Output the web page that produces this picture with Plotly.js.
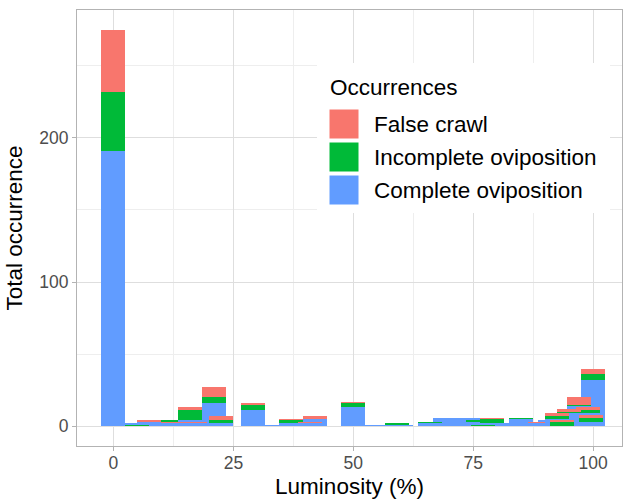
<!DOCTYPE html>
<html>
<head>
<meta charset="utf-8">
<script src="https://cdn.plot.ly/plotly-3.0.1.min.js"></script>
<style>html,body{margin:0;padding:0;background:#fff;}#chart{width:624px;height:499px;}</style>
</head>
<body>
<div id="chart"></div>
<script>
// ---- data (overlapping stacked histogram bins) ----
const binWidth = 5;
const seriesNames = ['False crawl', 'Incomplete oviposition', 'Complete oviposition'];
const seriesColors = ['#F8766D', '#00BA38', '#619CFF'];
const legendTitle = 'Occurrences';
const xTitle = 'Luminosity (%)';
const yTitle = 'Total occurrence';
const xTicks = [0, 25, 50, 75, 100];
const yTicks = [0, 100, 200];

// drawing layer A (back)
const layerA_lum        = [0, 5, 16, 21, 29, 34, 42, 50, 55, 60, 69, 74, 82, 91, 100];
const layerA_complete   = [191, 2, 4, 16, 11, 1, 5, 13, 1, 1, 6, 6, 2, 4, 32];
const layerA_incomplete = [41, 0, 7, 4, 4, 0, 0, 3, 0, 0, 0, 0, 0, 0, 4];
const layerA_false      = [43, 0, 2, 7, 1, 0, 2, 1, 0, 0, 0, 0, 0, 0, 4];
// layer B
const layerB_lum        = [7.5, 11, 22.5, 37, 59, 66, 76, 85, 97];
const layerB_complete   = [3, 3, 2, 2, 1, 2, 3, 5, 14];
const layerB_incomplete = [0, 1, 2, 2, 1, 1, 1, 1, 1];
const layerB_false      = [1, 0, 3, 1, 0, 0, 0, 0, 5];
// layer C
const layerC_lum        = [12.5, 41, 79, 89, 95, 99];
const layerC_complete   = [2, 2, 2, 2, 9, 9];
const layerC_incomplete = [0, 0, 3, 0, 1, 2];
const layerC_false      = [1, 1, 1, 1, 2, 2];
// layer D
const layerD_lum        = [17, 92.5, 99.5];
const layerD_complete   = [2, 5, 3];
const layerD_incomplete = [0, 2, 3];
const layerD_false      = [1, 2, 2];
// layer E (front)
const layerE_lum        = [5, 77, 93.5];
const layerE_complete   = [0, 0, 0];
const layerE_incomplete = [1, 1, 3];
const layerE_false      = [0, 0, 1];

const layers = [
  [layerA_lum, layerA_complete, layerA_incomplete, layerA_false],
  [layerB_lum, layerB_complete, layerB_incomplete, layerB_false],
  [layerC_lum, layerC_complete, layerC_incomplete, layerC_false],
  [layerD_lum, layerD_complete, layerD_incomplete, layerD_false],
  [layerE_lum, layerE_complete, layerE_incomplete, layerE_false]
];

const traces = [];
layers.forEach(([lum, comp, inc, fc]) => {
  const stack = [[comp, 2], [inc, 1], [fc, 0]]; // bottom to top, index into series
  let base = lum.map(() => 0);
  stack.forEach(([vals, si]) => {
    traces.push({
      type: 'bar', x: lum, y: vals, base: base.slice(),
      width: lum.map(() => binWidth),
      name: seriesNames[si], legendgroup: seriesNames[si], showlegend: false,
      marker: {color: seriesColors[si], line: {width: 0}},
      hoverinfo: 'skip'
    });
    base = base.map((b, i) => b + vals[i]);
  });
});

// ---- manual legend (layout decoration) ----
const pw = 545, ph = 436, pl = 77, pt = 10;
const px = X => (X - pl) / pw;
const py = Y => (pt + ph - Y) / ph;
const shapes = [{type: 'rect', xref: 'paper', yref: 'paper', layer: 'above',
  x0: px(317), x1: px(610), y0: py(213), y1: py(63), fillcolor: '#ffffff', line: {width: 0}}];
const annotations = [{xref: 'paper', yref: 'paper', x: px(328), y: py(87), xanchor: 'left', yanchor: 'middle',
  text: legendTitle, showarrow: false, font: {size: 22.5, color: '#000'}}];
seriesNames.forEach((n, i) => {
  const top = 109 + i * 33;
  shapes.push({type: 'rect', xref: 'paper', yref: 'paper', layer: 'above',
    x0: px(329), x1: px(359), y0: py(top + 30), y1: py(top), fillcolor: seriesColors[i],
    line: {color: '#ffffff', width: 1}});
  annotations.push({xref: 'paper', yref: 'paper', x: px(372), y: py(top + 15), xanchor: 'left', yanchor: 'middle',
    text: n, showarrow: false, font: {size: 22.5, color: '#000'}});
});

const layout = {
  width: 624, height: 499,
  margin: {l: pl, r: 624 - pl - pw, t: pt, b: 499 - pt - ph},
  paper_bgcolor: '#fff', plot_bgcolor: '#fff',
  barmode: 'overlay', bargap: 0,
  showlegend: false,
  font: {family: '"Liberation Sans", Arial, sans-serif', color: '#000'},
  xaxis: {
    range: [-7.6, 106], tickvals: xTicks, ticktext: xTicks.map(String),
    showgrid: true, gridcolor: '#DEDEDE', gridwidth: 1,
    minor: {tickvals: [12.5, 37.5, 62.5, 87.5], showgrid: true, gridcolor: '#EEEEEE', gridwidth: 1, ticks: ''},
    ticks: 'outside', ticklen: 4, tickcolor: '#B3B3B3', tickwidth: 1,
    ticklabelstandoff: -3,
    tickfont: {size: 17.5, color: '#4D4D4D'},
    showline: true, mirror: true, linecolor: '#B3B3B3', linewidth: 1,
    zeroline: false,
    title: {text: xTitle, font: {size: 22.5, color: '#000'}}
  },
  yaxis: {
    range: [-13.75, 288.75], tickvals: yTicks, ticktext: yTicks.map(String),
    showgrid: true, gridcolor: '#DEDEDE', gridwidth: 1,
    minor: {tickvals: [50, 150, 250], showgrid: true, gridcolor: '#EEEEEE', gridwidth: 1, ticks: ''},
    ticks: 'outside', ticklen: 4, tickcolor: '#B3B3B3', tickwidth: 1,
    tickfont: {size: 17.5, color: '#4D4D4D'},
    showline: true, mirror: true, linecolor: '#B3B3B3', linewidth: 1,
    zeroline: false,
    title: {text: yTitle, font: {size: 22.5, color: '#000'}}
  },
  shapes: shapes,
  annotations: annotations
};

Plotly.newPlot('chart', traces, layout, {staticPlot: true, displayModeBar: false});
</script>
</body>
</html>
